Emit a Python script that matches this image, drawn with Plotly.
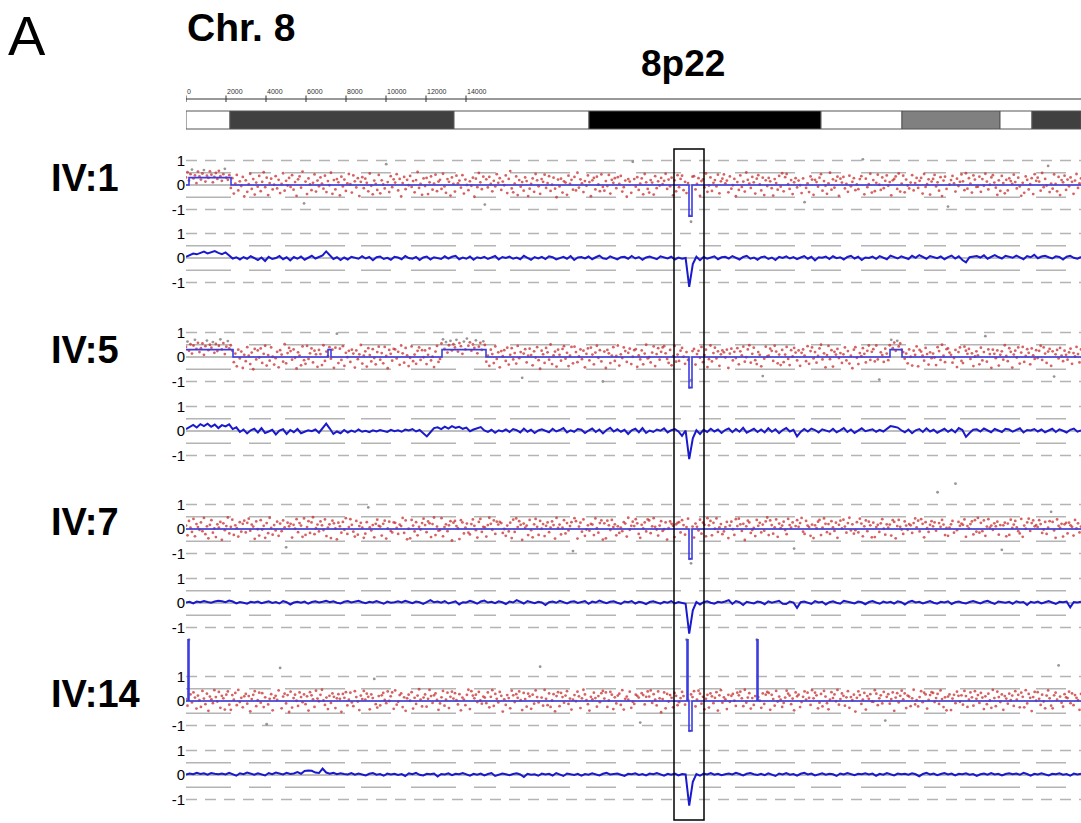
import plotly.graph_objects as go

# ---------------- data ----------------
samples = ["IV:1", "IV:5", "IV:7", "IV:14"]
chrom_end = 44750
ruler_ticks = [0, 2000, 4000, 6000, 8000, 10000, 12000, 14000]

band_start = [0, 2200, 13400, 20150, 31750, 35800, 40700, 42300]
band_end = [2200, 13400, 20150, 31750, 35800, 40700, 42300, 44750]
band_stain = ["gneg", "gpos75", "gneg", "gpos100", "gneg", "gpos50", "gneg", "gpos75"]

region_label = "8p22"
region_start, region_end = 24400, 25900

# segmentation (log2 ratio step lines)
seg_x_iv1 = [0, 150, 2250, 25150, 25300, 44750]
seg_y_iv1 = [0, 0.3, 0, -1.27, 0, 0]
seg_x_iv5 = [0, 2350, 7100, 7250, 12800, 15000, 25150, 25300, 35200, 35800, 44750]
seg_y_iv5 = [0.3, 0, 0.3, 0, 0.3, 0, -1.25, 0, 0.3, 0, 0]
seg_x_iv7 = [0, 25150, 25300, 44750]
seg_y_iv7 = [0, -1.22, 0, 0]
seg_x_iv14 = [0, 100, 150, 25050, 25100, 25150, 25300, 28550, 28600, 44750]
seg_y_iv14 = [0, 2.5, 0, 2.5, 0, -1.22, 0, 2.5, 0, 0]

# probe log2 ratios (x0.01), 10 probes per row, probes ordered along the chromosome
probes_iv1 = [
    [31, 52, 18, 44, 63, 27, 39, 8, 55, 35],
    [22, 47, 61, 14, 38, 29, 56, 42, 11, 33],
    [49, 25, 58, 36, 17, 44, 66, 30, 21, 40],
    [-12, 28, -35, 6, 41, -22, 15, -4, 33, -47],
    [19, -28, 3, 46, -16, 24, -39, 10, -7, 37],
    [-25, 13, 52, -9, 30, -41, 8, 26, -18, 1],
    [36, -14, 21, -33, 4, 48, -23, 17, -2, 29],
    [-8, 40, -19, 12, -44, 23, 35, -11, 55, -75],
    [14, -37, 27, 2, -21, 9, 43, -27, 18, -5],
    [31, 6, -15, 38, -29, 16, -1, 50, -36, 20],
    [-18, 24, 11, -42, 34, -6, 22, -24, 7, 45],
    [3, -31, 39, 15, -10, 28, -45, 13, 32, -13],
    [26, 9, -26, 47, -3, -38, 18, 5, -20, 41],
    [-34, 19, 2, -14, 85, 12, -29, 36, -9, 23],
    [10, 44, -22, 25, -47, 8, 33, -17, 21, -1],
    [37, -8, 16, -30, 20, 53, -12, 4, -40, 27],
    [-4, 29, -37, 11, 35, -19, 6, 42, -25, 14],
    [21, -16, 46, -6, -32, 24, 13, -43, 31, 5],
    [-27, 38, 7, 18, -11, 40, -35, 22, 0, -21],
    [15, -3, 30, -48, 26, -9, 49, 11, -17, 34],
    [-80, 23, -10, 33, 4, -26, 17, -6, 44, 9],
    [28, -20, 14, -1, 39, -33, 25, 57, -14, -30],
    [6, 35, -41, 20, -7, 12, -23, 31, 16, -45],
    [-15, 4, 27, -28, 45, 19, -5, -36, 24, 13],
    [42, -12, 8, 36, -24, 1, 30, -15, -50, 22],
    [-6, 26, -31, 15, 10, -40, 38, 5, 21, -19],
    [33, -22, 50, -11, 23, 7, -29, 16, -3, 39],
    [12, -46, 19, 29, -18, 34, 2, -25, 43, -8],
    [-23, 16, -4, 41, -35, 21, 9, 28, -13, 32],
    [5, 37, -27, -9, 18, -48, 24, 14, -32, 95],
    [24, -7, 32, -20, 6, 27, -38, 45, 11, -16],
    [-31, 20, 10, -39, 36, -13, 15, -2, 29, 3],
    [17, 46, -16, 22, -5, 30, -42, 19, -26, 40],
    [-9, 25, 38, -21, 13, -33, 8, -125, -150, 34],
    [36, -18, 4, 28, -44, 16, 23, -10, 47, -28],
    [-2, 31, -24, 9, 20, -6, 42, -34, 15, 26],
    [43, 7, 18, -30, 35, -15, -1, 25, -46, 12],
    [-20, 39, -8, 14, -27, 51, 21, 6, -12, 33],
    [11, -35, 26, 40, 2, -22, 30, -41, 19, -4],
    [29, 15, -13, -43, 24, 8, -19, 37, -7, 48],
    [-26, 32, 45, 3, -16, 20, -37, 11, 28, -10],
    [18, -1, -33, 27, -70, -12, 7, -29, 35, 22],
    [-40, 21, 12, -7, 30, 44, -23, 16, -3, -36],
    [7, 50, -19, 23, -11, 17, 34, -44, 26, 10],
    [33, -14, 5, -28, 38, -5, 13, 28, -21, 2],
    [-17, 24, 36, 105, -38, 26, -9, 3, 46, -31],
    [20, -25, 9, 42, 1, -20, 31, -13, 17, 39],
    [-3, 12, -42, 19, 25, 35, -16, 47, -27, 6],
    [38, -30, 22, -2, -14, 10, 40, -22, 8, 29],
    [-12, 17, 29, -35, 45, -8, 3, 23, -39, 14],
    [25, 41, -6, 11, -23, 32, -45, 18, 34, -16],
    [-88, 2, 20, 37, 7, -27, 26, -4, 13, 43],
    [15, -21, 48, -15, 28, 6, -31, 39, 22, -8],
    [-7, 34, -28, 24, -3, 46, 14, -18, 1, 31],
    [40, 10, -11, -40, 19, -24, 37, 8, -34, 21],
    [-22, 27, 16, 5, 42, 12, -14, 30, -6, -44],
    [9, -32, 35, 21, -18, 3, 28, -37, 44, 17],
    [30, 14, -23, 49, -9, 25, -2, 78, -29, 6],
    [-15, 43, 4, -26, 33, -41, 20, 11, 38, -20],
    [22, -5, 31, 13, -36, 18, 45, -12, 7, 27],
]
probes_iv5 = [
    [41, 63, 25, 52, 14, 47, 70, 33, 58, 20],
    [36, 55, 9, 44, 67, 28, 50, 38, 61, 17],
    [53, 24, 46, 72, 31, 57, 12, 42, 65, 35],
    [48, 26, -21, 14, -38, 30, -6, 22, -45, 9],
    [-17, 40, 5, -29, 18, -50, 33, -10, 27, -2],
    [35, -24, 13, 46, -35, 8, -15, 39, 1, -31],
    [-5, 21, -42, 28, 10, -19, 52, -26, 16, 37],
    [24, -11, 31, -3, -47, 19, 6, -34, 43, -13],
    [-28, 45, -8, 15, 35, -22, 26, 11, -40, 29],
    [12, -33, 48, -16, 22, 3, 40, -7, 30, -44],
    [38, 95, -25, 34, -12, 44, -36, 17, -1, 25],
    [-20, 30, 14, -43, 27, -9, 11, 49, -27, 6],
    [23, -39, 36, 8, -18, 32, -4, -30, 20, 42],
    [-11, 16, -26, 41, 4, -46, 29, 13, -15, 33],
    [31, -6, 21, -32, 47, 15, -23, 37, 7, -37],
    [-3, 43, -17, 10, -28, 25, 39, -12, 28, -1],
    [27, -29, 9, 35, -14, 1, -41, 22, 45, -20],
    [-8, 55, 72, 33, 61, 18, 48, 66, 27, 52],
    [39, 70, 22, 57, 44, 13, 63, 31, 75, 46],
    [60, 26, 51, 37, 68, 15, 42, 58, 29, 64],
    [49, -19, 6, -36, 30, 12, -25, 43, -8, 19],
    [-42, 24, 3, 28, -16, 38, -31, 9, 36, -10],
    [16, -27, 45, -5, 20, -85, 14, 32, -22, 5],
    [34, 8, -34, 23, -2, 40, -13, -48, 26, 11],
    [-24, 37, 19, -11, 51, -29, 7, 22, -39, 30],
    [9, -15, 33, 44, -7, 17, -37, 5, 41, -26],
    [42, 20, -21, 2, 31, -9, 26, -42, 13, 35],
    [-14, 38, 10, -30, 18, 46, -3, 28, -18, -100],
    [22, -45, 29, 15, -25, 6, 40, -16, 4, 47],
    [-35, 11, -4, 39, 24, -20, 17, 34, -29, 1],
    [28, 32, -40, 7, -10, 27, -30, 14, 50, -6],
    [-1, -22, 18, 43, -37, 12, 36, -11, 21, 39],
    [44, 15, -8, -24, 29, -34, 3, 45, -19, 10],
    [-16, 26, 37, 1, -28, 20, -12, -125, -95, 24],
    [33, -31, 12, 25, -3, 41, -21, 8, 30, -41],
    [-9, 47, -18, 16, 38, -6, 23, -36, 11, 27],
    [19, -2, 30, -45, 14, 34, -14, 21, -4, 36],
    [-30, 23, 7, 42, -19, -1, 31, 48, -23, 13],
    [38, -13, -29, 20, 9, -38, -78, -7, 42, 2],
    [5, 34, 25, -16, 46, 22, -26, 10, -33, 29],
    [-21, 10, 41, -8, -33, 28, 2, 37, 18, -14],
    [27, -36, 17, 31, 6, -17, 44, -28, 24, 39],
    [-6, 20, -23, 4, 35, 50, -10, 15, -42, 8],
    [45, -9, 28, -39, 21, 10, 33, -4, 16, -24],
    [11, 39, -14, 24, -27, 5, -46, 30, 40, -3],
    [-29, 16, 3, 36, 13, -22, 25, 47, -12, 21],
    [32, -18, 47, -10, -92, 19, 8, -20, 34, 14],
    [-13, 48, 70, 36, 59, 25, 66, 43, 55, 30],
    [20, -7, 14, -26, 31, 1, -35, 26, 9, 43],
    [-38, 29, 22, 6, -15, 37, 12, -31, 19, -5],
    [14, -2, -33, 40, 24, -12, 50, 5, -21, 32],
    [35, 18, 9, -23, -4, 29, -41, 20, 39, -16],
    [-25, 42, 26, 13, 33, -8, 15, -37, 2, 23],
    [7, -30, 38, -14, 20, 85, -19, 31, 12, -44],
    [30, 13, -5, 27, -35, 9, 23, -11, 48, 4],
    [-17, 36, 21, -43, 10, 26, -2, 39, -27, 18],
    [41, -20, 4, 32, 17, -30, 35, 7, -8, 28],
    [-4, 25, 46, -12, 39, 14, -24, 22, 33, -36],
    [23, -80, 11, 29, -6, 37, 6, -17, 26, 9],
    [-11, 19, 34, -28, 16, 2, 41, 12, -22, 31],
]
probes_iv7 = [
    [14, -26, 33, 5, -12, 41, -30, 20, 8, -3],
    [27, -9, 45, -21, 11, -38, 17, 36, -15, 2],
    [-33, 19, 6, 29, -44, 23, -5, 12, 47, -18],
    [9, 38, -24, 15, 3, -31, 28, -11, 21, 34],
    [-14, 25, 42, -7, 18, 10, -40, 31, -1, -27],
    [36, -2, 13, -36, 24, -17, 46, 4, -23, 16],
    [-6, 30, -28, 22, -9, 35, 7, -75, 26, 11],
    [21, -35, 17, 1, 40, -13, 24, 14, -32, 43],
    [-24, 8, 32, -16, 27, 48, -21, 3, 18, -10],
    [31, 15, -4, 39, -29, 6, 19, -37, 34, 23],
    [2, -42, 26, 11, -15, 29, -3, 44, -20, 8],
    [40, 17, -11, -31, 33, -23, 12, 25, 5, -36],
    [-19, 28, 88, 7, -6, 16, -34, 21, 38, 13],
    [10, -27, 21, 34, -39, 2, 30, -8, -14, 27],
    [25, 4, -20, 18, 12, 45, -16, 35, -42, 1],
    [-38, 37, 14, -10, 28, -26, 9, -2, 24, 42],
    [16, -13, 31, 23, -33, 20, 47, -25, 10, -7],
    [-4, 44, -30, 8, 19, -9, 15, 32, -47, 26],
    [33, 12, 3, -41, 36, 27, -18, 6, 22, -15],
    [-22, 20, 39, 13, -5, -35, 29, 41, -12, 9],
    [7, -31, 16, 46, 21, -3, 35, -20, 30, 18],
    [29, 24, -16, 0, -28, 14, -10, 26, -37, 38],
    [-12, 43, 8, 32, 17, -44, 22, 5, 14, -25],
    [37, -5, -34, 19, 41, 9, -24, 33, 1, 20],
    [-29, 13, 27, -13, 6, 31, 16, -39, 45, 4],
    [18, -22, 5, 36, -18, 24, -6, 12, 28, -90],
    [44, 32, -39, 10, 26, -11, 39, -28, -2, 15],
    [-7, 21, 18, -25, 43, 3, -15, 24, 35, -43],
    [23, -38, 34, 15, -4, 37, 8, 19, -26, 11],
    [-16, 6, -9, 28, 22, -31, 46, -3, 13, 30],
    [12, 40, 23, -20, -36, 17, 2, 27, -10, 39],
    [35, -17, 11, 44, 9, -2, -27, 14, 32, -8],
    [-1, 27, -43, 3, 31, 21, 13, -33, 19, 25],
    [28, -14, 36, 16, -23, 8, 42, -122, -140, 10],
    [-35, 22, 9, -6, 38, -19, 26, 17, -30, 44],
    [15, 33, -26, 25, 1, 43, -12, 7, 20, -21],
    [-10, 8, 29, -37, 14, 30, -1, -24, 40, 12],
    [42, 19, -8, 21, -45, 11, 34, 27, -16, -4],
    [4, -29, 37, 13, 25, -14, 18, -7, 31, 47],
    [-25, 35, 16, -19, 7, 39, -32, 22, 3, 14],
    [30, -4, -21, 41, 16, 5, 27, -80, 12, 36],
    [9, 24, 45, -11, -20, 33, 14, 8, -28, 18],
    [-37, 15, 3, 30, 37, -25, 6, 43, 21, -13],
    [20, -20, 32, 7, -8, 26, -36, 17, 34, 2],
    [38, 10, -15, 24, 46, -6, 19, -19, -5, 28],
    [-14, 42, 22, -30, 11, 35, -9, 30, 15, -34],
    [26, -33, 8, 17, -12, 23, 40, 1, -23, 19],
    [5, 18, -27, 36, 29, -38, 12, 37, 9, -2],
    [-20, 31, 14, -3, 20, 15, -16, 24, 43, 7],
    [34, -10, 40, 21, -34, 28, 3, -12, 17, 32],
    [11, 27, -7, 150, 24, 9, 37, 18, -25, 4],
    [-28, 6, 19, 33, -15, 185, -5, 29, 13, 22],
    [17, 39, -32, 12, 2, 20, 31, -22, 36, -11],
    [45, -15, 25, -9, 35, -28, 10, 40, 6, 14],
    [-3, 23, 11, 30, -23, 16, -85, 15, 26, -30],
    [22, -24, 38, 4, 18, 33, 7, -9, -18, 41],
    [-32, 14, 1, 27, 42, -8, 24, 35, 11, 16],
    [8, 36, 20, -16, -2, 29, -20, 5, 32, 70],
    [29, -6, -36, 39, 13, 4, 21, -31, 19, 25],
    [-18, 26, 15, 9, -27, 37, 2, 23, -14, 10],
]
probes_iv14 = [
    [8, -19, 250, 27, -6, 35, 14, -31, 22, 3],
    [-24, 41, 10, -13, 30, -40, 18, 7, -9, 44],
    [16, -2, 37, -28, 21, 11, -35, 26, 39, -15],
    [-36, 24, 5, 33, -17, 45, -4, 13, -26, 19],
    [29, -11, 20, -42, 8, 25, 40, -21, 3, 34],
    [-7, 32, -25, 15, -95, -14, 9, 28, -38, 12],
    [21, 4, 43, 135, -30, 18, 30, -10, 24, -45],
    [38, -27, 12, 26, 1, -20, 35, 16, -5, 27],
    [-13, 19, -39, 36, 23, 7, -24, 42, 10, -1],
    [25, 46, 2, -16, 14, -33, 21, -8, 31, 17],
    [-29, 11, 28, 9, -44, 29, 13, 36, -18, 5],
    [34, -6, -21, 40, 16, -2, -37, 22, 8, 41],
    [6, 30, 17, -34, 27, 12, 90, -13, -27, 20],
    [-18, 23, 33, 4, -9, 39, 0, 19, 35, -32],
    [43, -15, -3, 24, 31, -25, 15, -40, 11, 26],
    [1, 36, -31, 13, -12, 22, 48, 6, -22, 14],
    [27, -23, 9, 45, 20, -8, 23, 31, 4, -36],
    [-10, 15, 41, -19, 5, 34, -29, 17, 38, 10],
    [32, 3, -14, 28, -38, 14, 6, -17, 25, 46],
    [-33, 40, 22, 11, 26, -4, 37, 2, -11, 18],
    [14, -9, 35, -26, 17, 44, -20, 29, 9, -6],
    [37, 21, -43, 7, -16, 24, 12, -30, 42, 23],
    [-4, 28, 13, 39, 3, -37, 33, 8, -23, 30],
    [19, -32, 26, -11, 43, 16, -6, 140, 14, -19],
    [45, 9, -17, 31, -24, 2, 28, -42, 20, 36],
    [-21, 33, 16, -7, 22, 40, -12, 10, -35, 5],
    [24, -1, 38, 19, -29, 11, 46, 27, 3, -13],
    [-39, 17, 7, 34, 12, -23, 20, -5, 32, 41],
    [10, 35, -24, 2, 37, 26, -33, 15, -10, 22],
    [30, -16, 44, -35, 9, 18, 5, 38, -28, -3],
    [-12, 26, 21, 14, -88, 32, 24, -14, 17, 39],
    [18, 43, -8, 28, 6, -18, 39, 11, -46, 8],
    [35, -30, 29, -2, 24, 13, -26, 33, 21, -17],
    [-5, 12, 37, 20, -15, 250, 4, -122, 27, 16],
    [40, -22, 6, 42, 30, -11, 17, -34, 9, 25],
    [-27, 31, 19, -9, 13, 36, -39, 23, 44, -7],
    [15, 7, -33, 25, -3, 21, 29, 1, -20, 34],
    [23, 38, 11, -21, 46, -7, 14, 32, -31, 12],
    [-16, 20, 250, 16, 1, -28, 31, -12, 26, 37],
    [33, -36, 25, 8, -19, 41, -2, 18, 6, -24],
    [-8, 14, 42, 30, 22, -13, 10, -38, 35, 19],
    [26, -25, -4, 17, 39, 6, 34, 13, -16, 44],
    [11, 34, 23, -30, -7, 29, -22, 41, 18, -9],
    [-34, 5, 36, 12, 27, -1, 45, -15, 8, 31],
    [21, -19, 15, 40, -28, 16, 3, 26, -43, 13],
    [39, 24, -12, 6, 33, -35, 20, 9, 28, -2],
    [-3, 44, 30, -17, 11, 23, -10, 37, -80, 17],
    [28, -11, 8, 35, -40, 14, 32, -6, 21, 42],
    [7, 31, -29, 22, 18, -21, 11, 46, -14, 3],
    [-22, 16, 40, -5, 34, 27, -31, 4, 24, 36],
    [33, -4, 12, 29, -12, 43, 8, -25, 15, -38],
    [18, 27, -37, 10, 25, -9, 38, 21, -3, 23],
    [-15, 41, 20, -24, 5, 35, 15, -19, 40, 9],
    [24, -8, 33, 14, -33, 19, -13, 30, 2, -28],
    [45, 12, -21, 38, 16, -4, 27, -36, 20, 10],
    [-11, 30, 3, 22, -20, 40, 6, 25, -26, 34],
    [17, -26, 44, -10, 29, 13, -41, 16, 37, 1],
    [36, 9, -16, 26, -2, -30, 22, 43, 11, -19],
    [-30, 23, 34, 5, 145, 18, -7, -23, 28, 15],
    [12, 38, -9, 31, -17, 24, 13, 3, -36, 29],
]

# smoothed moving-average profiles (x0.01), 10 windows per row
smooth_iv1 = [
    [5, 12, 18, 15, 22, 26, 19, 24, 28, 21],
    [16, 23, 10, -2, 3, -6, 4, -3, 7, -1],
    [-8, 2, -12, 5, -4, 0, 8, -5, 3, -10],
    [4, -3, 6, -7, 1, 9, -2, 5, 11, 27],
    [12, -4, 3, -8, 2, -6, 5, 0, -3, 7],
    [-2, 4, -9, 3, 6, -4, 1, -7, 5, 2],
    [-5, 8, 0, -3, 4, -8, 2, 6, -6, 3],
    [1, -4, 7, -2, 5, 9, -5, 2, -3, 6],
    [-7, 3, -1, 5, -4, 2, 8, -6, 4, 0],
    [6, -3, 2, -5, 9, 1, -7, 4, -2, 5],
    [-4, 7, 3, -6, 0, 5, -3, 8, -8, 2],
    [4, -2, 6, -5, 3, 10, -1, -4, 7, 1],
    [-6, 3, 5, -3, 8, -2, 4, -7, 2, 6],
    [1, -5, 7, 3, -2, 5, -6, 2, -3, 0],
    [-118, -25, 5, -9, 4, -3, 2, 7, -5, 3],
    [5, -2, 8, 1, -6, 4, 9, -3, 2, -7],
    [3, 6, -4, 2, -8, 5, 0, 7, -2, 4],
    [-5, 2, 8, -3, 5, -10, 3, 1, 6, -4],
    [7, -1, 3, -6, 4, 9, -2, 5, -8, 2],
    [0, 6, -3, 8, 2, -5, 10, 4, -2, 7],
    [3, -4, 9, 1, 12, 5, -3, 8, 2, -1],
    [6, -5, 4, 10, -2, 7, -8, -18, 3, 5],
    [8, 2, 11, -3, 6, 12, 4, -2, 9, 5],
    [1, 10, 4, -5, 8, 3, 13, -1, 6, 9],
    [3, -2, 7, 4, -6, 5, 9, 1, -3, 4],
]
smooth_iv5 = [
    [8, 18, 25, 14, 28, 20, 30, 17, 26, 12],
    [24, 19, 27, 8, 15, -4, 6, -10, 3, 9],
    [-6, 12, -8, -2, 5, -14, 2, 7, -12, 4],
    [-5, 8, -9, -3, 3, -1, 6, -7, 14, 30],
    [10, -12, -2, -9, 4, -6, 2, -4, 6, -3],
    [1, -5, 3, -2, 4, 0, -4, 5, -1, 3],
    [-3, 6, 2, 8, -2, 4, -8, -22, -5, 12],
    [15, 8, 18, 10, 20, 13, 17, 9, 14, -1],
    [6, 12, 16, 2, -4, 5, -7, 3, -2, 6],
    [-4, 8, 3, -6, 10, -3, 5, -8, 2, 7],
    [1, -5, 9, -2, 4, 12, -6, 3, -3, 8],
    [5, -8, 2, 10, -4, 6, -10, 4, 13, -2],
    [7, -3, 5, -12, 3, 9, -5, 12, -8, 2],
    [-4, 6, 1, 11, -6, 3, 8, -2, -20, 2],
    [-115, -30, 3, -12, 5, -4, 9, -2, 6, -8],
    [4, 10, -5, 8, -3, 13, -7, 2, 9, -4],
    [6, -6, 11, -3, 7, -9, 4, 12, -2, 5],
    [-22, -4, 8, -2, 10, 4, -6, 7, 1, -3],
    [9, -5, 3, 12, -4, 6, -8, 2, 11, -1],
    [4, 7, -3, 5, -2, 10, 20, 17, 14, 3],
    [-5, 6, -9, 3, 8, -4, 11, -2, 5, -7],
    [2, 9, -3, 6, -6, 12, 4, -24, -8, 5],
    [7, -2, 10, 3, -5, 8, 1, -4, 9, 6],
    [-3, 5, 11, -6, 4, 2, 8, -2, 6, -5],
    [3, 9, -4, 7, 1, -6, 5, 10, -3, 2],
]
smooth_iv7 = [
    [2, 5, -2, 6, 3, 8, 4, 1, 6, 9],
    [7, 3, 10, 6, -2, 4, 1, -3, 5, 2],
    [6, -1, 3, 7, 0, 4, -2, 8, 3, -6],
    [2, 5, 1, 6, -3, 4, 7, 2, 5, 9],
    [3, 7, 1, -2, 5, 8, 2, 4, 9, 3],
    [-1, 5, 2, 8, 4, -3, 6, 1, 3, 7],
    [2, 9, 4, -1, 6, 3, -4, 5, 12, 3],
    [6, 1, 8, -2, 4, 7, -6, 3, 2, 9],
    [4, -3, 6, 10, 2, 5, -1, 7, 3, -4],
    [6, 2, 12, 4, -2, 8, 3, -1, 5, 2],
    [-8, 3, 6, 1, 9, 4, -2, 5, 7, 0],
    [3, 8, -3, 6, 2, 10, 4, -1, 5, 7],
    [1, -4, 6, 3, 8, -2, 5, 2, -5, 4],
    [7, 2, -3, 5, 1, 8, -2, 4, 2, -3],
    [-125, -30, 4, -6, 3, 7, 1, -3, 5, 2],
    [6, 12, -4, 8, 3, -8, 5, 2, -2, 6],
    [3, -5, 7, 1, 4, 9, -3, -4, 6, 2],
    [-20, 3, 6, 1, -4, 8, 2, 5, -6, 3],
    [7, 1, -3, 9, 4, 2, -2, 6, 3, -5],
    [4, 8, 2, -3, 6, 1, 5, -2, 7, 3],
    [-6, 4, 9, 2, 5, -2, 3, 8, 1, -3],
    [5, 2, 7, -4, 3, 6, 1, -2, 4, 8],
    [3, -2, 5, 9, 2, -4, 6, 3, 1, 5],
    [-3, 7, 2, 4, -8, 5, 1, 6, -2, 3],
    [8, 2, -4, 5, 3, 6, -18, 4, 2, 5],
]
smooth_iv14 = [
    [2, 6, 3, 9, 4, 7, 1, 8, 5, 3],
    [6, 2, 9, 4, -3, 7, 3, 10, 5, 1],
    [7, 4, -2, 8, 3, 10, 5, 2, 9, 4],
    [6, 12, 5, 16, 18, 17, 10, 8, 26, 10],
    [5, 9, 3, 7, 4, 2, 8, 1, 6, 3],
    [-2, 5, 8, 1, 4, -3, 6, 2, 5, 0],
    [4, -4, 7, 3, 9, 1, -2, 5, 3, 6],
    [-6, 4, 2, 7, -1, 5, 3, 8, 2, -3],
    [5, 1, 6, -2, 4, 8, -4, 2, 6, 3],
    [-1, 4, 7, 2, -8, 5, 1, 3, -3, 6],
    [2, 5, -2, 8, 1, -4, 6, 3, 0, 5],
    [-3, 4, 1, 7, 3, -2, 5, 9, 2, 4],
    [6, 1, -4, 5, 3, 7, 0, 4, -2, 6],
    [3, 8, 2, -3, 5, 1, 6, -2, 4, 2],
    [-125, -28, 4, -3, 6, 2, 8, 1, 5, -1],
    [3, 6, 2, 9, 4, -2, 5, 8, 3, 0],
    [5, -1, 7, 3, -4, 6, 2, 8, 1, 4],
    [-3, 5, 9, 2, 6, -2, 4, 7, 1, 5],
    [3, -4, 6, 2, 8, 4, -1, 5, 3, 7],
    [2, 6, -3, 5, 1, 8, 4, -2, 6, 3],
    [5, 1, 7, 3, -5, 4, 9, 2, 6, -1],
    [4, 8, 2, 6, -2, 5, 3, 7, 1, 4],
    [-4, 3, 6, 1, 8, 2, 5, -2, 4, 7],
    [3, 6, 1, 9, 4, -3, 5, 2, 7, 3],
    [-2, 5, 3, 7, 1, 4, -3, 6, 2, 5],
]

seg_x = [seg_x_iv1, seg_x_iv5, seg_x_iv7, seg_x_iv14]
seg_y = [seg_y_iv1, seg_y_iv5, seg_y_iv7, seg_y_iv14]
probes = [probes_iv1, probes_iv5, probes_iv7, probes_iv14]
smooths = [smooth_iv1, smooth_iv5, smooth_iv7, smooth_iv14]

# ---------------- layout geometry (reference pixels) ----------------
W, H = 1081, 823
X0 = 186                      # left edge of the genome axis
S = 24.5                      # pixels per log2 unit
scatter_zero = [185, 357, 529, 701]
smooth_zero = [258, 431, 603, 775]
label_y = [178, 350, 522, 694]
scatter_rng = [[-1.9, 1.6], [-1.9, 1.6], [-1.9, 2.1], [-1.9, 2.7]]
smooth_rng = [-1.45, 1.45]
FONT = "Liberation Sans, Arial, Helvetica, sans-serif"
stain_color = {"gneg": "white", "gpos50": "#808080", "gpos75": "#404040", "gpos100": "black"}


def pp(py):
    return 1 - py / H


def px(x):
    return x / W


def flat(rows):
    return [v / 100 for r in rows for v in r]


def positions(n):
    return [k * chrom_end / (n - 1) for k in range(n)]


fig = go.Figure()
shapes = []
annotations = []
layout_axes = {}


def add_axis(n, zero_px, rng):
    lo, hi = rng
    name = "yaxis" if n == 1 else f"yaxis{n}"
    layout_axes[name] = dict(
        domain=[pp(zero_px - lo * S), pp(zero_px - hi * S)],
        range=[lo, hi], anchor="x", tickvals=[-1, 0, 1], ticktext=["-1", "0", "1"],
        showgrid=False, zeroline=False, showline=False, ticks="",
        tickfont=dict(family=FONT, size=15, color="black"), fixedrange=True,
    )
    yref = "y" if n == 1 else f"y{n}"
    for v in [1, -1]:
        shapes.append(dict(type="line", xref="x", yref=yref, x0=0, x1=chrom_end, y0=v, y1=v,
                           line=dict(color="#b4b4b4", width=1.5, dash="11px,8px"), layer="below"))
    for v in [0.5, -0.5]:
        shapes.append(dict(type="line", xref="x", yref=yref, x0=0, x1=chrom_end, y0=v, y1=v,
                           line=dict(color="#b4b4b4", width=1.5, dash="45px,18px,22px,14px,60px,16px,30px,20px"),
                           layer="below"))
    shapes.append(dict(type="line", xref="x", yref=yref, x0=0, x1=chrom_end, y0=0, y1=0,
                       line=dict(color="#a8a8a8", width=1.5), layer="below"))
    return yref


for i, name in enumerate(samples):
    yr_sc = add_axis(2 * i + 1, scatter_zero[i], scatter_rng[i])
    yr_sm = add_axis(2 * i + 2, smooth_zero[i], smooth_rng)

    vals = flat(probes[i])
    cols = ["rgba(200,45,45,0.75)" if abs(v) <= 0.6 else "rgba(140,140,140,0.9)" for v in vals]
    fig.add_trace(go.Scatter(x=positions(len(vals)), y=vals, mode="markers", xaxis="x", yaxis=yr_sc,
                             marker=dict(size=2.8, color=cols), hoverinfo="skip", showlegend=False))
    fig.add_trace(go.Scatter(x=seg_x[i], y=seg_y[i], mode="lines", line_shape="hv", xaxis="x", yaxis=yr_sc,
                             line=dict(color="rgb(60,60,225)", width=1.6), hoverinfo="skip", showlegend=False))
    sv = flat(smooths[i])
    fig.add_trace(go.Scatter(x=positions(len(sv)), y=sv, mode="lines", xaxis="x", yaxis=yr_sm,
                             line=dict(color="rgb(25,25,205)", width=2), hoverinfo="skip", showlegend=False))
    annotations.append(dict(text=name, xref="paper", yref="paper", x=px(49), y=pp(label_y[i]),
                            xanchor="left", yanchor="middle", showarrow=False,
                            font=dict(family=FONT, size=38, color="black", weight=700)))

# ideogram
for b0, b1, st in zip(band_start, band_end, band_stain):
    shapes.append(dict(type="rect", xref="x", yref="paper", x0=b0, x1=b1, y0=pp(129), y1=pp(111),
                       fillcolor=stain_color[st], line=dict(color="#555555", width=1)))

# ruler
shapes.append(dict(type="line", xref="x", yref="paper", x0=0, x1=chrom_end, y0=pp(99), y1=pp(99),
                   line=dict(color="#333333", width=1)))
for t in ruler_ticks:
    shapes.append(dict(type="line", xref="x", yref="paper", x0=t, x1=t, y0=pp(102), y1=pp(95.5),
                       line=dict(color="#333333", width=1)))
    annotations.append(dict(text=str(t), xref="x", yref="paper", x=t, y=pp(91), xanchor="left",
                            yanchor="middle", showarrow=False, xshift=-1,
                            font=dict(family=FONT, size=7, color="#333333")))

# region box
shapes.append(dict(type="rect", xref="x", yref="paper", x0=region_start, x1=region_end,
                   y0=pp(820), y1=pp(149), line=dict(color="black", width=1.5), fillcolor="rgba(0,0,0,0)"))

annotations += [
    dict(text="A", xref="paper", yref="paper", x=px(6), y=pp(35), xanchor="left", yanchor="middle",
         showarrow=False, font=dict(family=FONT, size=56, color="black")),
    dict(text="Chr. 8", xref="paper", yref="paper", x=px(185), y=pp(28), xanchor="left", yanchor="middle",
         showarrow=False, font=dict(family=FONT, size=39, color="black", weight=700)),
    dict(text=region_label, xref="x", yref="paper", x=(region_start + region_end) / 2, y=pp(63),
         xanchor="center", yanchor="middle", showarrow=False, xshift=-6,
         font=dict(family=FONT, size=37, color="black", weight=700)),
]

fig.update_layout(
    width=W, height=H, margin=dict(l=0, r=0, t=0, b=0),
    paper_bgcolor="white", plot_bgcolor="rgba(0,0,0,0)", showlegend=False,
    xaxis=dict(domain=[px(X0), 1], range=[0, chrom_end], visible=False, fixedrange=True, anchor="y"),
    shapes=shapes, annotations=annotations, **layout_axes,
)
fig.write_html("out.html", config={"displayModeBar": False},
               post_script="document.body.style.margin='0';")
